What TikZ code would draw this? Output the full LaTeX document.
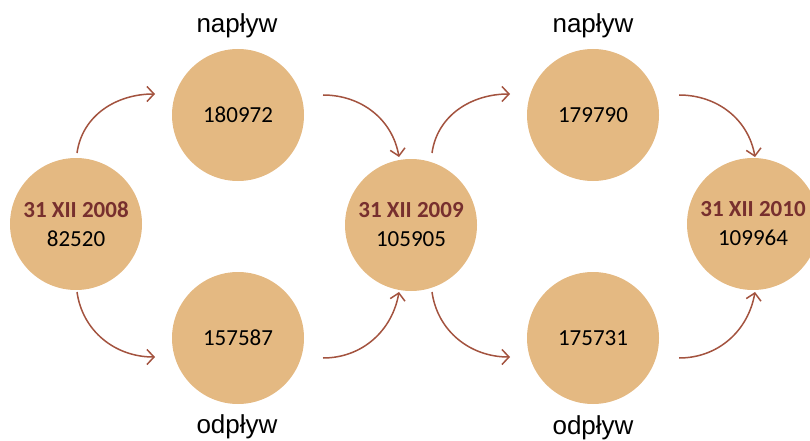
\documentclass[tikz,border=0pt]{standalone}
\usepackage{fontspec}
\setmainfont{Carlito}
\newfontfamily\arialf{Liberation Sans}
\usetikzlibrary{arrows.meta}
\definecolor{disc}{HTML}{E4B982}
\definecolor{arr}{HTML}{A3533F}
\definecolor{datec}{HTML}{772F2E}
\tikzset{
  disc/.style={circle, fill=disc, minimum size=132pt, inner sep=0pt, align=center, font=\fontsize{23}{29}\selectfont},
  flow/.style={draw=arr, line width=1.5pt, -{Straight Barb[length=7pt,width=15pt,line width=1.5pt]}},
  lbl/.style={font=\arialf\fontsize{26}{30}\selectfont}
}
\begin{document}
\begin{tikzpicture}[x=1pt,y=-1pt]
\useasboundingbox (0,0) rectangle (810,441);
\clip (0,0) rectangle (810,441);
\node[disc] (L) at (76,224) {\textbf{\color{datec}31 XII 2008}\\82520};
\node[disc] (T1) at (238,115) {180972};
\node[disc] (B1) at (238,338) {157587};
\node[disc] (M) at (411,225) {\textbf{\color{datec}31 XII 2009}\\105905};
\node[disc] (T2) at (593,115) {179790};
\node[disc] (B2) at (593,338) {175731};
\node[disc] (R) at (753,224) {\textbf{\color{datec}31 XII 2010}\\109964};
\node[lbl] (n1) at (237,26) {napływ};
\node[lbl] (n2) at (593,26) {napływ};
\node[lbl] (o1) at (237,427) {odpływ};
\node[lbl] (o2) at (593,428) {odpływ};
\coordinate (a1s) at (77,153); \coordinate (a1e) at (155,94);
\coordinate (a2s) at (323,95); \coordinate (a2e) at (399,157);
\coordinate (a3s) at (432,153); \coordinate (a3e) at (510,94);
\coordinate (a4s) at (679,95); \coordinate (a4e) at (755,157);
\coordinate (a5s) at (77,292); \coordinate (a5e) at (155,357);
\coordinate (a6s) at (323,358); \coordinate (a6e) at (399,292);
\coordinate (a7s) at (432,292); \coordinate (a7e) at (510,357);
\coordinate (a8s) at (679,358); \coordinate (a8e) at (755,292);
\draw[flow] (a1s) to[out=82,in=180] (a1e);
\draw[flow] (a2s) to[out=0,in=100] (a2e);
\draw[flow] (a3s) to[out=82,in=180] (a3e);
\draw[flow] (a4s) to[out=0,in=100] (a4e);
\draw[flow] (a5s) to[out=-82,in=180] (a5e);
\draw[flow] (a6s) to[out=0,in=-100] (a6e);
\draw[flow] (a7s) to[out=-82,in=180] (a7e);
\draw[flow] (a8s) to[out=0,in=-100] (a8e);
\end{tikzpicture}
\end{document}
